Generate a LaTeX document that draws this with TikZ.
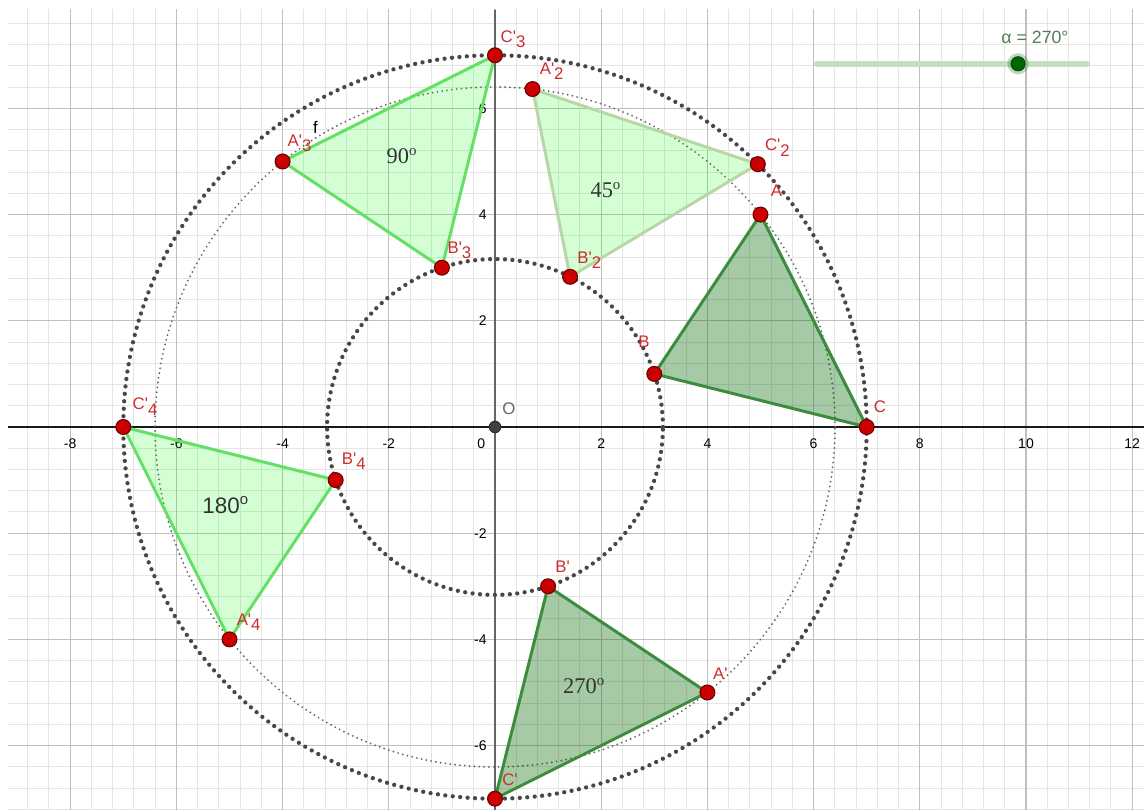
\documentclass[tikz,border=0pt]{standalone}
\usepackage{fontspec}
\setmainfont{Liberation Sans}
\newfontfamily\angfont{Liberation Serif}
\usetikzlibrary{calc}
\definecolor{ptred}{RGB}{204,0,0}
\definecolor{ptdark}{RGB}{110,0,0}
\definecolor{lblred}{RGB}{205,45,45}
\definecolor{darkgreen}{RGB}{0,100,0}
\definecolor{edgedark}{RGB}{60,140,60}
\definecolor{edgebright}{RGB}{100,225,100}
\definecolor{edgepale}{RGB}{185,215,165}
\definecolor{sliderline}{RGB}{200,222,195}
\definecolor{slidertext}{RGB}{85,125,85}
\newcommand{\sub}[1]{\raisebox{-0.6ex}{#1}}
\newcommand{\pr}{\textquotesingle}

\begin{document}
\begin{tikzpicture}[
    minorgrid/.style={line width=0.5pt, black!10},
    majorgrid/.style={line width=0.7pt, black!25},
    bigdots/.style={line width=2.3pt, black!72, dash pattern=on 0pt off 4pt, line cap=round},
    smalldots/.style={line width=1.1pt, black!60, dash pattern=on 0pt off 2.6pt, line cap=round},
    tridark/.style={draw=edgedark, line width=1.6pt, fill=darkgreen, fill opacity=0.35, line join=round},
    tribright/.style={draw=edgebright, line width=1.6pt, fill=green, fill opacity=0.17, line join=round},
    tripale/.style={draw=edgepale, line width=1.6pt, fill=green, fill opacity=0.17, line join=round},
    pt/.style={circle, fill=ptred, draw=ptdark, line width=0.6pt, inner sep=0pt, minimum size=0.28cm},
    lbl/.style={text=lblred, font=\fontsize{9}{10}\selectfont, anchor=base west, inner sep=0pt},
    tick/.style={font=\fontsize{7.5}{9}\selectfont, inner sep=0pt},
    angtext/.style={font=\angfont\fontsize{12}{14}\selectfont, text=black!80},
  ]
    \useasboundingbox (-9.322,-7.213) rectangle (12.222,8.041);

    \coordinate (A) at (5, 4);
    \coordinate (B) at (3, 1);
    \coordinate (C) at (7, 0);
    \coordinate (A1) at (4, -5);
    \coordinate (B1) at (1, -3);
    \coordinate (C1) at (0, -7);
    \coordinate (A2) at (0.70711, 6.36396);
    \coordinate (B2) at (1.41421, 2.82843);
    \coordinate (C2) at (4.94975, 4.94975);
    \coordinate (A3) at (-4, 5);
    \coordinate (B3) at (-1, 3);
    \coordinate (C3) at (0, 7);
    \coordinate (A4) at (-5, -4);
    \coordinate (B4) at (-3, -1);
    \coordinate (C4) at (-7, 0);
    \coordinate (O) at (0, 0);
    \coordinate (sl0) at (6.06, 6.84);
    \coordinate (sl1) at (11.15, 6.84);
    \coordinate (knob) at (9.85, 6.84);

    % grid
    \begin{scope}
        \clip (-9.17,-7.213) rectangle (12.222,7.853);
        \draw[minorgrid] (-9.6,-7.6) grid[step=0.4] (12.4,8.4);
        \draw[majorgrid] (-10,-8) grid[step=2] (14,10);
        \draw[line width=0.8pt, black!90] (-9.17,0) -- (12.222,0);
        \draw[line width=0.8pt, black!60] (0,-7.213) -- (0,7.853);
    \end{scope}

    \foreach \x [count=\i] in {-8,-6,-4,-2,2,4,6,8,10,12}
    \node[tick, anchor=base] (tx\i) at (\x,-0.4) {\x};
    \foreach \y [count=\i] in {-6,-4,-2,2,4,6}
    \node[tick, anchor=east] (ty\i) at (-0.15,\y) {\y};
    \node[tick, anchor=base] (t0) at (-0.26,-0.4) {0};

    % circles
    \draw[bigdots] (O) circle (7);
    \draw[bigdots] (O) circle (3.16228);
    \draw[smalldots] (O) circle (6.40312);

    % triangles
    \draw[tridark] (A) -- (B) -- (C) -- cycle;
    \draw[tridark] (A1) -- (B1) -- (C1) -- cycle;
    \draw[tripale] (A2) -- (B2) -- (C2) -- cycle;
    \draw[tribright] (A3) -- (B3) -- (C3) -- cycle;
    \draw[tribright] (A4) -- (B4) -- (C4) -- cycle;

    \node[angtext] (t90) at (-1.75,5.10) {90\textsuperscript{o}};
    \node[angtext] (t45) at (2.09,4.46) {45\textsuperscript{o}};
    \node[angtext, font=\fontsize{12}{14}\selectfont] (t180) at (-5.07,-1.47) {180\textsuperscript{o}};
    \node[angtext] (t270) at (1.68,-4.88) {270\textsuperscript{o}};
    \node[font=\fontsize{9}{10}\selectfont, inner sep=0pt] (lf) at (-3.38,5.64) {f};

    % points
    \foreach \n in {A, B, C, A1, B1, C1, A2, B2, C2, A3, B3, C3, A4, B4, C4}
    \node[pt] (p\n) at (\n) {};
    \node[circle, fill=black!75, draw=black!85, inner sep=0pt, minimum size=0.22cm] (pO) at (O) {};

    \node[lbl] (lA) at ($(A)+(0.19,0.34)$) {A};
    \node[lbl, anchor=base east] (lB) at ($(B)+(-0.08,0.49)$) {B};
    \node[lbl] (lC) at ($(C)+(0.13,0.28)$) {C};
    \node[lbl] (lA1) at ($(A1)+(0.10,0.25)$) {A\pr};
    \node[lbl] (lB1) at ($(B1)+(0.13,0.26)$) {B\pr};
    \node[lbl] (lC1) at ($(C1)+(0.13,0.25)$) {C\pr};
    \node[lbl] (lA2) at ($(A2)+(0.13,0.28)$) {A\pr\sub{2}};
    \node[lbl] (lB2) at ($(B2)+(0.13,0.25)$) {B\pr\sub{2}};
    \node[lbl] (lC2) at ($(C2)+(0.13,0.25)$) {C\pr\sub{2}};
    \node[lbl] (lA3) at ($(A3)+(0.09,0.28)$) {A\pr\sub{3}};
    \node[lbl] (lB3) at ($(B3)+(0.10,0.27)$) {B\pr\sub{3}};
    \node[lbl] (lC3) at ($(C3)+(0.10,0.25)$) {C\pr\sub{3}};
    \node[lbl] (lA4) at ($(A4)+(0.13,0.27)$) {A\pr\sub{4}};
    \node[lbl] (lB4) at ($(B4)+(0.11,0.30)$) {B\pr\sub{4}};
    \node[lbl] (lC4) at ($(C4)+(0.17,0.32)$) {C\pr\sub{4}};
    \node[lbl, text=black!60] (lO) at ($(O)+(0.13,0.23)$) {O};

    % slider
    \draw[sliderline, line width=3.2pt, line cap=round] (sl0) -- (sl1);
    \fill[darkgreen, fill opacity=0.25] (knob) circle (0.2);
    \node[circle, fill=darkgreen, draw=darkgreen!70!black, inner sep=0pt, minimum size=0.27cm] (pknob) at (knob) {};
    \node[text=slidertext, font=\fontsize{9.5}{11}\selectfont] (lalpha) at (10.17,7.34) {α = 270°};
\end{tikzpicture}
\end{document}
